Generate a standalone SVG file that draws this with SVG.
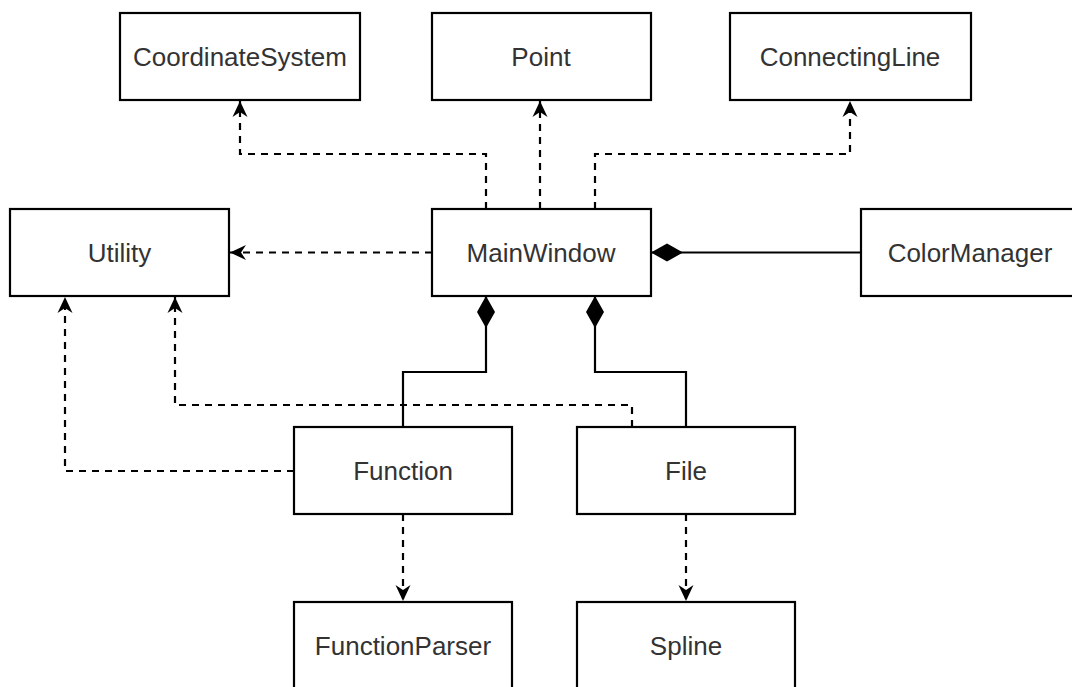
<svg xmlns="http://www.w3.org/2000/svg" width="1072" height="687" viewBox="0 0 1072 687">
<style>
.box{fill:#fff;stroke:#000;stroke-width:2.2}
.lbl{font-family:"Liberation Sans",Arial,sans-serif;font-size:26px;fill:#333;text-anchor:middle}
.dep{fill:none;stroke:#000;stroke-width:2.2;stroke-dasharray:7 6;marker-end:url(#arr)}
.comp{fill:none;stroke:#000;stroke-width:2.2;marker-start:url(#dia)}
</style>
<defs>
<marker id="arr" markerUnits="userSpaceOnUse" markerWidth="18" markerHeight="18" viewBox="-17 -9 18 18" refX="0" refY="0" orient="auto">
<path d="M0,0 L-16,-7.5 L-11,0 L-16,7.5 Z" fill="#000"/>
</marker>
<marker id="dia" markerUnits="userSpaceOnUse" markerWidth="34" markerHeight="22" viewBox="0 -11 34 22" refX="0" refY="0" orient="auto">
<path d="M0,0 L16,-9 L32,0 L16,9 Z" fill="#000"/>
</marker>
</defs>
<rect width="1072" height="687" fill="#fff"/>
<g id="connectors">
<path class="dep" d="M486,209 V154 H240 V101"/>
<path class="dep" d="M540,209 V101"/>
<path class="dep" d="M595,209 V154 H850 V101"/>
<path class="dep" d="M432,252.5 H230"/>
<path class="comp" d="M651,252.5 H861"/>
<path class="comp" d="M486,296 V372 H403 V427"/>
<path class="comp" d="M595,296 V372 H686 V427"/>
<path class="dep" d="M294,471 H65 V297"/>
<path class="dep" d="M632,427 V405 H175 V297"/>
<path class="dep" d="M403,514 V601"/>
<path class="dep" d="M686,514 V601"/>
</g>
<g id="CoordinateSystem"><rect class="box" x="120" y="13" width="240" height="87"/><text class="lbl" x="240" y="65.5">CoordinateSystem</text></g>
<g id="Point"><rect class="box" x="432" y="13" width="219" height="87"/><text class="lbl" x="541" y="65.5">Point</text></g>
<g id="ConnectingLine"><rect class="box" x="730" y="13" width="241" height="87"/><text class="lbl" x="850" y="65.5">ConnectingLine</text></g>
<g id="Utility"><rect class="box" x="10" y="209" width="219" height="87"/><text class="lbl" x="119.5" y="261.5">Utility</text></g>
<g id="MainWindow"><rect class="box" x="432" y="209" width="219" height="87"/><text class="lbl" x="541" y="261.5">MainWindow</text></g>
<g id="ColorManager"><rect class="box" x="861" y="209" width="219" height="87"/><text class="lbl" x="970" y="261.5">ColorManager</text></g>
<g id="Function"><rect class="box" x="294" y="427" width="218" height="87"/><text class="lbl" x="403" y="479.5">Function</text></g>
<g id="File"><rect class="box" x="577" y="427" width="218" height="87"/><text class="lbl" x="686" y="479.5">File</text></g>
<g id="FunctionParser"><rect class="box" x="294" y="602" width="218" height="87"/><text class="lbl" x="403" y="654.5">FunctionParser</text></g>
<g id="Spline"><rect class="box" x="577" y="602" width="218" height="87"/><text class="lbl" x="686" y="654.5">Spline</text></g>
</svg>
